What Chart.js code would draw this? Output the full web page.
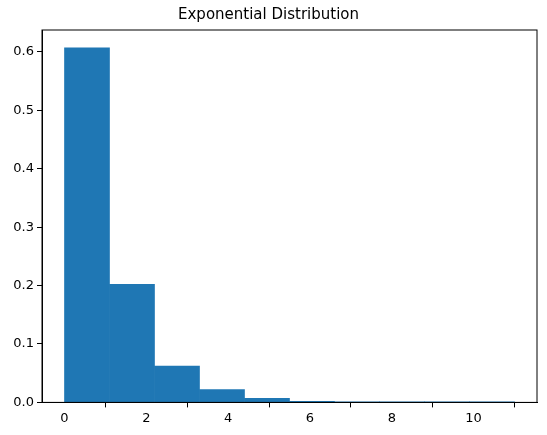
<!DOCTYPE html>
<html><head><script src="https://cdn.jsdelivr.net/npm/chart.js"></script>
<style>body{margin:0;background:#fff}</style></head><body>
<div style="width:547px;height:435px"><canvas id="c"></canvas></div>
<script>
const binEdges=[0,1.1,2.2,3.3,4.4,5.5,6.6,7.7,8.8,9.9,11.0];
const densities=[0.607,0.202,0.062,0.022,0.007,0.002,0.0006,0.0002,0.0001,0.0001];
const xTicks=[0,2,4,6,8,10];
const yTicks=[0,0.1,0.2,0.3,0.4,0.5,0.6];
const data=densities.map((d,i)=>({x:(binEdges[i]+binEdges[i+1])/2,y:d}));
new Chart(document.getElementById('c'),{type:'bar',
data:{datasets:[{data,backgroundColor:'#1f77b4',barPercentage:1,categoryPercentage:1,borderWidth:0}]},
options:{responsive:true,maintainAspectRatio:false,animation:false,
layout:{padding:{top:0,right:10,bottom:6,left:0}},
plugins:{legend:{display:false},tooltip:{enabled:false},
title:{display:true,text:'Exponential Distribution',color:'#000',font:{family:'DejaVu Sans',size:15,weight:'normal'},padding:{top:6,bottom:6}}},
scales:{
x:{type:'linear',offset:false,min:-0.55,max:11.55,afterBuildTicks:s=>{s.ticks=xTicks.map(v=>({value:v}))},
grid:{display:true,drawOnChartArea:false,drawTicks:true,tickLength:5,tickColor:'#000'},border:{color:'#000'},
ticks:{color:'#000',font:{family:'DejaVu Sans',size:13},maxRotation:0,padding:3,callback:v=>v}},
y:{min:0,max:0.6374,afterBuildTicks:s=>{s.ticks=yTicks.map(v=>({value:v}))},
afterFit:s=>{s.width=42},
grid:{display:true,drawOnChartArea:false,drawTicks:true,tickLength:5,tickColor:'#000'},border:{color:'#000'},
ticks:{color:'#000',font:{family:'DejaVu Sans',size:13},padding:3,callback:v=>v.toFixed(1)}}
}},
plugins:[{id:'frame',afterDraw(c){const a=c.chartArea,x=c.ctx;x.save();x.strokeStyle='#000';x.lineWidth=1;x.strokeRect(a.left,a.top,a.right-a.left,a.bottom-a.top);x.restore();}}]
});
</script></body></html>
